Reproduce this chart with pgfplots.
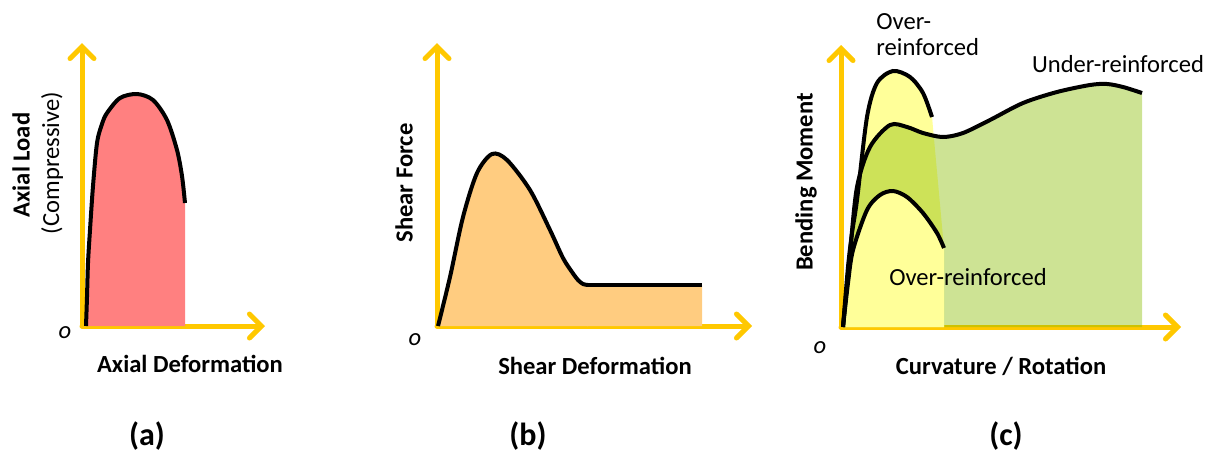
\documentclass[border=0pt]{standalone}
\usepackage{fontspec}
\setmainfont{Carlito}
\usepackage{pgfplots}
\pgfplotsset{compat=1.18}
\usetikzlibrary{arrows.meta}
\definecolor{axgold}{RGB}{255,200,0}
\definecolor{redfill}{RGB}{255,128,128}
\definecolor{orfill}{RGB}{255,204,128}
\definecolor{yelfill}{RGB}{255,255,153}
\definecolor{grnfill}{RGB}{136,188,0}
\pgfplotsset{
  panel/.style={
    x=0.5pt, y=0.5pt, xmin=0, ymin=0, clip=false,
    axis lines=left, xtick=\empty, ytick=\empty,
    axis line style={draw=axgold, line width=2.5pt, line cap=round},
    x axis line style={-{Straight Barb[length=6pt,width=12pt,line cap=round]}},
    y axis line style={-{Straight Barb[length=6pt,width=12pt,line cap=round]}},
    anchor=south west,
  },
  curve/.style={black, line width=2pt, smooth, no markers},
}
\newcommand{\lab}{\fontsize{12.3}{14}\selectfont}
\begin{document}
\begin{tikzpicture}
\path[use as bounding box] (0,0) rectangle (610.5pt,226pt);
% ---------- (a)
\begin{axis}[panel, at={(41pt,63pt)}, xmax=183, ymax=283]
\addplot[fill=redfill, draw=none, smooth] coordinates {
 (4,0) (5,29) (6,63) (8,96) (11,140) (15,183) (20,202) (25,213) (38,228) (55,232) (71,226) (85,206) (95,176) (100,150) (103,123)} \closedcycle;
\addplot[curve] coordinates {
 (4,0) (5,29) (6,63) (8,96) (11,140) (15,183) (20,202) (25,213) (38,228) (55,232) (71,226) (85,206) (95,176) (100,150) (103,123)};
\end{axis}
% ---------- (b)
\begin{axis}[panel, at={(218.5pt,63pt)}, xmax=315, ymax=283]
\addplot[fill=orfill, draw=none, smooth] coordinates {
 (1,0) (13,49) (26,109) (40,153) (55,172) (70,166) (93,136) (113,96) (126,68) (135,54) (141,46) (146,42) (151,41)} \closedcycle;
\addplot[fill=orfill, draw=none] coordinates {(150,0) (150,41) (265,41) (265,0)} \closedcycle;
\addplot[curve] coordinates {
 (1,0) (13,49) (26,109) (40,153) (55,172) (70,166) (93,136) (113,96) (126,68) (135,54) (141,46) (146,42) (151,41)};
\addplot[black, line width=2pt, no markers] coordinates {(150,41) (265,41)};
\end{axis}
% ---------- (c)
\begin{axis}[panel, at={(420.5pt,62.5pt)}, xmax=340, ymax=282]
\addplot[fill=yelfill, draw=none, smooth] coordinates {
 (2,0) (7,60) (11,94) (16,127) (26,210) (36,244) (52,256) (69,250) (82,234) (91,210)} \closedcycle;
\addplot[fill=yelfill, draw=none] coordinates {(91,0) (91,210) (103,79) (103,0)} \closedcycle;
\addplot[fill=grnfill, fill opacity=0.42, draw=none, smooth] coordinates {
 (2,0) (9,74) (16,140) (29,180) (49,202) (66,200) (82,194) (102,190) (122,194) (149,207) (182,224) (216,235) (249,242) (266,243) (282,240) (301,234)} \closedcycle;
\addplot[fill=yelfill, draw=none, smooth] coordinates {
 (2,0) (7,44) (12,77) (26,117) (39,132) (52,136) (66,130) (82,114) (96,94) (103,79)} \closedcycle;
\addplot[curve] coordinates {
 (2,0) (7,60) (11,94) (16,127) (26,210) (36,244) (52,256) (69,250) (82,234) (91,210)};
\addplot[curve] coordinates {
 (2,0) (9,74) (16,140) (29,180) (49,202) (66,200) (82,194) (102,190) (122,194) (149,207) (182,224) (216,235) (249,242) (266,243) (282,240) (301,234)};
\addplot[curve] coordinates {
 (2,0) (7,44) (12,77) (26,117) (39,132) (52,136) (66,130) (82,114) (96,94) (103,79)};
\end{axis}
% ---------- labels
\begin{scope}[every node/.style={font=\lab, inner sep=0pt}]
\node[font=\lab\bfseries] at (95pt,44pt) {Axial Deformation};
\node[rotate=90, font=\lab\bfseries] at (10.5pt,143.5pt) {Axial Load};
\node[rotate=90] at (26pt,144.5pt) {(Compressive)};
\node[font=\lab\itshape] at (32.5pt,59.5pt) {o};
\node[font=\fontsize{16}{18}\selectfont\bfseries] at (73.5pt,8pt) {(a)};

\node[font=\lab\bfseries] at (297.5pt,43pt) {Shear Deformation};
\node[rotate=90, font=\lab\bfseries] at (202pt,134.5pt) {Shear Force};
\node[font=\lab\itshape] at (207.5pt,56pt) {o};
\node[font=\fontsize{16}{18}\selectfont\bfseries] at (264pt,8pt) {(b)};

\node[font=\lab\bfseries] at (500.5pt,43pt) {Curvature / Rotation};
\node[rotate=90, font=\lab\bfseries] at (403pt,135pt) {Bending Moment};
\node[font=\lab\itshape] at (410pt,52pt) {o};
\node[font=\fontsize{16}{18}\selectfont\bfseries] at (503pt,8pt) {(c)};
\node[anchor=west] at (438pt,215pt) {Over-};
\node[anchor=west] at (438pt,202.5pt) {reinforced};
\node at (559pt,194pt) {Under-reinforced};
\node at (484pt,87.5pt) {Over-reinforced};
\end{scope}
\end{tikzpicture}
\end{document}
